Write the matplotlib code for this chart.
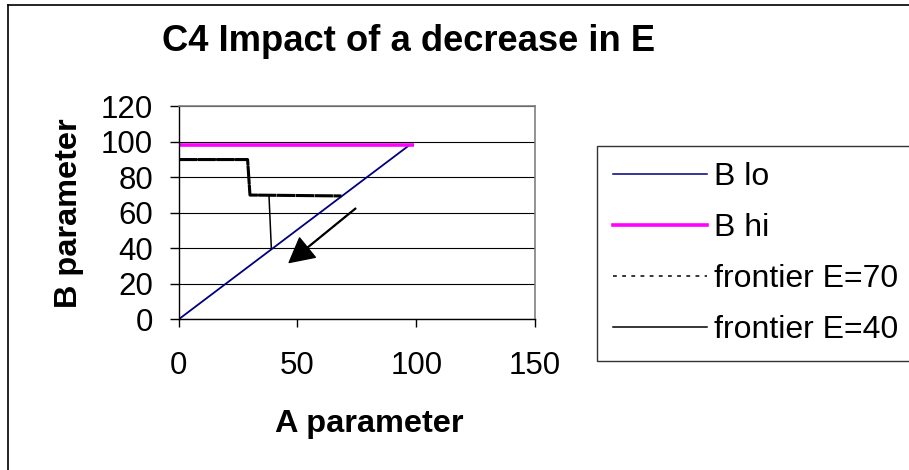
import matplotlib
matplotlib.use("Agg")
import matplotlib.pyplot as plt
from matplotlib.lines import Line2D

plt.rcParams['font.family'] = ['Liberation Sans', 'DejaVu Sans']

# ---- data ----
a_lo = [0, 97]
b_lo = [0, 98]
a_hi = [0, 99]
b_hi = [98, 98]
a_e70 = [0, 29, 30, 68.5]
b_e70 = [90, 90, 70, 69.5]
a_e40 = [0, 29, 30, 38, 39]
b_e40 = [90, 90, 70, 70, 40]
arrow_tail = (74.5, 62.5)
arrow_tip = (46.5, 32)
x_ticks = [0, 50, 100, 150]
y_ticks = [0, 20, 40, 60, 80, 100, 120]

fig = plt.figure(figsize=(9.09, 4.70), dpi=100)
ax = fig.add_axes([178.7/909, 1-319.3/470, (535-178.7)/909, (319.3-106.3)/470])

ax.plot(a_lo, b_lo, color='#000080', lw=1.3, label='B lo')
ax.plot(a_hi, b_hi, color='#FF00FF', lw=2.6, label='B hi', solid_capstyle='butt')
ax.plot(a_e70, b_e70, color='black', lw=2.2, linestyle=(0, (6, 0.15)))
ax.plot(a_e40, b_e40, color='black', lw=1.1)

ax.annotate('', xy=arrow_tip, xytext=arrow_tail,
            arrowprops=dict(facecolor='black', edgecolor='black', width=0.6,
                            headwidth=18, headlength=17, shrink=0))

ax.set_xlim(0, 150)
ax.set_ylim(0, 120)
ax.set_xticks(x_ticks)
ax.set_yticks(y_ticks)
ax.grid(axis='y', color='black', lw=0.8)
ax.set_axisbelow(True)
for s in ['top', 'right']:
    ax.spines[s].set_color('#808080')
    ax.spines[s].set_linewidth(1.2)
for s in ['left', 'bottom']:
    ax.spines[s].set_color('black')
    ax.spines[s].set_linewidth(1.0)
ax.tick_params(axis='x', direction='out', length=6, width=1, pad=17, labelsize=22.5)
ax.tick_params(axis='y', direction='out', length=6.5, width=1, pad=12, labelsize=22.5)

ax.set_xlabel('A parameter', fontsize=23.4, fontweight='bold', labelpad=20)
ax.xaxis.label.set_x((369-178.7)/(535-178.7))
ax.set_ylabel('B parameter', fontsize=23.4, fontweight='bold', labelpad=12)
ax.set_title('C4 Impact of a decrease in E', fontsize=26.2, fontweight='bold',
             x=(409-178.7)/(535-178.7), pad=40)

handles = [Line2D([], [], color='#000080', lw=1.1),
           Line2D([], [], color='#FF00FF', lw=2.6),
           Line2D([], [], color='black', lw=1.1, linestyle=(0, (2.5, 3.5))),
           Line2D([], [], color='black', lw=1.1)]
labels = ['B lo', 'B hi', 'frontier E=70', 'frontier E=40']
leg = fig.legend(handles, labels, loc='upper left',
                 bbox_to_anchor=(597/909, 1-146/470), fontsize=23,
                 frameon=True, fancybox=False, shadow=False,
                 handlelength=2.94, handletextpad=0.22, labelspacing=0.66,
                 borderpad=0.5, borderaxespad=0)
leg.get_frame().set_edgecolor('black')
leg.get_frame().set_linewidth(1.0)

fig.add_artist(Line2D([8/909, 8/909], [0, 1-5/470], color='black', lw=1.2,
                      transform=fig.transFigure))
fig.add_artist(Line2D([8/909, 1], [1-5/470, 1-5/470], color='black', lw=1.2,
                      transform=fig.transFigure))

fig.savefig('out.png', dpi=100)
